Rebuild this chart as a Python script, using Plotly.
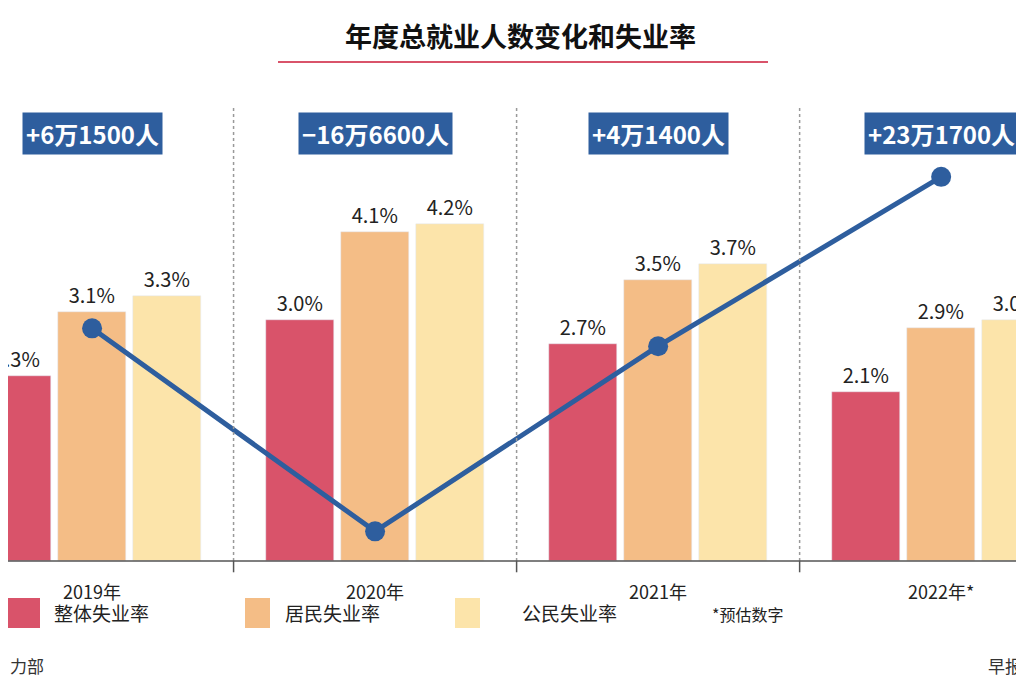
import plotly.graph_objects as go

years = ["2019年", "2020年", "2021年", "2022年*"]
overall = [2.3, 3.0, 2.7, 2.1]
resident = [3.1, 4.1, 3.5, 2.9]
citizen = [3.3, 4.2, 3.7, 3.0]
emp_change = [61.5, -166.6, 41.4, 231.7]  # 千人
emp_labels = ["+6万1500人", "−16万6600人", "+4万1400人", "+23万1700人"]

RED, ORANGE, YELLOW, BLUE = "#D9536A", "#F4BD86", "#FCE4AA", "#2E5E9E"
FONT = "Noto Sans CJK SC"
OFF = 8  # page offset in the browser
x = list(range(len(years)))


def px(v):
    return (v - OFF) / 1024


def py(v):
    return 1 - (v - OFF) / 682


fig = go.Figure()
for vals, col, off in [(overall, RED, -0.265), (resident, ORANGE, 0), (citizen, YELLOW, 0.265)]:
    fig.add_trace(go.Bar(x=[i + off for i in x], y=vals, width=0.24, marker_color=col,
                         text=[f"{v:.1f}%" for v in vals], textposition="outside",
                         textfont=dict(size=20, color="#222", family=FONT),
                         cliponaxis=False, showlegend=False))
fig.add_trace(go.Scatter(x=x, y=emp_change, yaxis="y2", mode="lines+markers",
                         line=dict(color=BLUE, width=5), marker=dict(size=20, color=BLUE),
                         showlegend=False))

for i, (lab, yr) in enumerate(zip(emp_labels, years)):
    fig.add_annotation(x=i, y=5.32, yanchor="middle", text=f"<b>{lab}</b>", showarrow=False, bgcolor=BLUE,
                       font=dict(size=24, color="white", family=FONT), borderpad=3)
    fig.add_annotation(x=i, y=-0.37, yanchor="middle", text=yr, showarrow=False,
                       font=dict(size=18, color="#222", family=FONT))

for s in [0.5, 1.5, 2.5]:
    fig.add_shape(type="line", x0=s, x1=s, y0=0, y1=5.67, line=dict(color="#999", width=1.5, dash="dot"))
    fig.add_shape(type="line", x0=s, x1=s, y0=0, y1=-0.14, line=dict(color="#555", width=1.5))
fig.add_shape(type="line", xref="paper", x0=0, x1=1, y0=0, y1=0, line=dict(color="#555", width=1.5))

# legend
for x0, col, txt, tx in [(0, RED, "整体失业率", 52), (245, ORANGE, "居民失业率", 283), (455, YELLOW, "公民失业率", 520)]:
    fig.add_shape(type="rect", xref="paper", yref="paper", x0=px(x0), x1=px(x0 + 40 if x0 == 0 else x0 + 25),
                  y0=py(628), y1=py(598), fillcolor=col, line_width=0)
    fig.add_annotation(xref="paper", yref="paper", x=px(tx), y=py(612), xanchor="left", yanchor="middle",
                       text=txt, showarrow=False, font=dict(size=19, color="#222", family=FONT))
fig.add_annotation(xref="paper", yref="paper", x=px(710), y=py(614), xanchor="left", yanchor="middle",
                   text="*预估数字", showarrow=False, font=dict(size=16, color="#222", family=FONT))
fig.add_annotation(xref="paper", yref="paper", x=px(8), y=py(665), xanchor="left", yanchor="middle",
                   text="力部", showarrow=False, font=dict(size=17, color="#333", family=FONT))
fig.add_annotation(xref="paper", yref="paper", x=px(1024), y=py(665), xanchor="right", yanchor="middle",
                   text="早报", showarrow=False, font=dict(size=17, color="#333", family=FONT))

# title
fig.add_annotation(xref="paper", yref="paper", x=px(520), y=py(36), yanchor="middle",
                   text="<b>年度总就业人数变化和失业率</b>",
                   showarrow=False, font=dict(size=27, color="#111", family=FONT))
fig.add_shape(type="line", xref="paper", yref="paper", x0=px(278), x1=px(768),
              y0=py(62), y1=py(62), line=dict(color="#D9536A", width=2))

fig.update_layout(
    width=1024, height=682, margin=dict(l=0, r=0, t=0, b=0),
    paper_bgcolor="white", plot_bgcolor="white", bargap=0,
    xaxis=dict(range=[-0.297, 3.321], visible=False),
    yaxis=dict(range=[-1.606, 6.887], visible=False),
    yaxis2=dict(range=[-344.9, 421.4], overlaying="y", visible=False),
)
fig.write_html("out.html")
